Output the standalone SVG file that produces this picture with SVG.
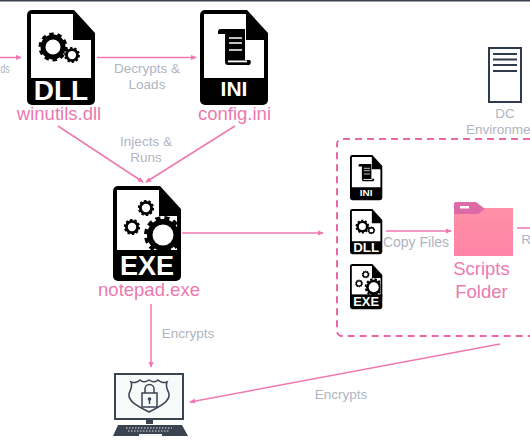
<svg xmlns="http://www.w3.org/2000/svg" width="530" height="442" viewBox="0 0 530 442">
<style>
.lbl{font-family:"Liberation Sans",Arial,sans-serif;font-size:13.5px;fill:#b0b4c1;text-anchor:middle}
.name{font-family:"Liberation Sans",Arial,sans-serif;font-size:18.5px;fill:#ee78b0;text-anchor:middle}
.ext{font-family:"Liberation Sans",Arial,sans-serif;font-weight:bold;fill:#fff;text-anchor:middle}
.con{fill:none;stroke:#ee78b0;stroke-width:1.5;marker-end:url(#arr)}
.k{fill:#000}
.w{fill:#fff}
</style>
<defs>
<marker id="arr" viewBox="0 0 8 8" refX="7" refY="4" markerWidth="6" markerHeight="6" markerUnits="userSpaceOnUse" orient="auto"><path d="M0 0.5L8 4L0 7.5Z" fill="#ee78b0"/></marker>
<clipPath id="exeClip"><rect x="4" y="4" width="60" height="64"/></clipPath>
<g id="file">
<path class="k" d="M5 0H47L68 23V90a5 5 0 0 1-5 5H5a5 5 0 0 1-5-5V5a5 5 0 0 1 5-5Z"/>
<path class="w" d="M4 4H46V30H64V68H4Z"/>
</g>
<g id="gear">
<circle r="10" fill="none" stroke="#000" stroke-width="5"/>
<circle r="12.5" fill="none" stroke="#000" stroke-width="4" stroke-dasharray="4.3 3.55"/>
</g>
<g id="iconDll">
<use href="#file"/>
<use href="#gear" transform="translate(26,37)"/>
<use href="#gear" transform="translate(45,45) scale(.55)"/>
<text class="ext" x="34" y="90" font-size="28">DLL</text>
</g>
<g id="iconIni">
<use href="#file"/>
<path class="k" d="M18 22a3 3 0 0 1 3-3H45V50H50a3 3 0 0 1-3 5H28a3 3 0 0 1-3-3V24H18Z"/>
<path d="M29 28H42M29 33H42M29 40H42" stroke="#fff" stroke-width="1.6"/>
<rect class="w" x="28" y="50.500" width="19" height="1.800"/>
<text class="ext" x="34" y="86" font-size="21">INI</text>
</g>
<g id="iconExe">
<use href="#file"/>
<path class="w" d="M4 4H46V30H64V64H4Z"/>
<rect class="k" x="0" y="64" width="68" height="6"/>
<use href="#gear" transform="translate(33,22) scale(.56)"/>
<use href="#gear" transform="translate(19,41) scale(.56)"/>
<g clip-path="url(#exeClip)">
<circle class="k" cx="50" cy="49" r="16"/>
<circle cx="50" cy="49" r="17" fill="none" stroke="#000" stroke-width="4" stroke-dasharray="5 4"/>
</g>
<circle class="w" cx="50" cy="49" r="10.500"/>
<text class="ext" x="34" y="89" font-size="27">EXE</text>
</g>
<linearGradient id="fold" x1="0" y1="0" x2="0" y2="1"><stop offset="0" stop-color="#ff90a6"/><stop offset="1" stop-color="#ff83a6"/></linearGradient>
</defs>
<rect width="530" height="442" fill="#fff"/>
<rect width="530" height="1.5" fill="#3a4050"/>

<g id="connectors">
<path class="con" d="M0 57.500H21"/>
<path class="con" d="M97 57.500H196"/>
<path class="con" d="M58 126L143 182"/>
<path class="con" d="M235 126L146 182"/>
<path class="con" d="M182 233H323"/>
<path class="con" d="M151 304V367"/>
<path class="con" d="M386 231H451"/>
<path d="M517 228H530" fill="none" stroke="#ee78b0" stroke-width="1.5"/>
<path class="con" d="M500 344L190 402"/>
</g>

<g id="labels">
<text class="lbl" style="text-anchor:start" x="0.500" y="73" textLength="9" lengthAdjust="spacingAndGlyphs">ds</text>
<text class="lbl" x="147" y="73">Decrypts &amp;</text>
<text class="lbl" x="147" y="89">Loads</text>
<text class="lbl" x="146" y="146">Injects &amp;</text>
<text class="lbl" x="146" y="162">Runs</text>
<text class="lbl" x="188" y="338">Encrypts</text>
<text class="lbl" x="341" y="399">Encrypts</text>
<text class="lbl" x="416" y="247" style="font-size:14px">Copy Files</text>
<text class="lbl" x="526" y="244">R</text>
</g>

<g id="winutils"><use href="#iconDll" x="27" y="10"/><text class="name" x="59" y="120">winutils.dll</text></g>
<g id="config"><use href="#iconIni" x="200" y="10"/><text class="name" x="234.500" y="120">config.ini</text></g>
<g id="notepad"><use href="#iconExe" x="113" y="186"/><text class="name" x="149" y="296">notepad.exe</text></g>

<g id="dc">
<rect x="489" y="48" width="32" height="54" fill="#fff" stroke="#2f3b4c" stroke-width="2"/>
<path d="M493 54H517M493 59.500H517M493 65H517M493 71H517" stroke="#2f3b4c" stroke-width="2"/>
<text class="lbl" x="505" y="118">DC</text>
<text class="lbl" style="text-anchor:start" x="466" y="134">Environme</text>
</g>

<g id="environment"><path d="M530 139H342a5 5 0 0 0-5 5V331a5 5 0 0 0 5 5H530" fill="none" stroke="#e868a8" stroke-width="2" stroke-dasharray="7 5"/></g>

<g id="smallIni"><use href="#iconIni" transform="translate(350,155) scale(.475)"/></g>
<g id="smallDll"><use href="#iconDll" transform="translate(350,209) scale(.475)"/></g>
<g id="smallExe"><use href="#iconExe" transform="translate(350,264) scale(.475)"/></g>

<g id="scripts">
<rect x="454" y="208" width="59" height="48" fill="url(#fold)"/>
<path d="M454 204a2 2 0 0 1 2-2H476L485 209L478 214H454Z" fill="#dd6aa6"/>
<rect x="460" y="206" width="9" height="2.500" fill="#fff"/>
<text class="name" x="481.500" y="275">Scripts</text>
<text class="name" x="481.500" y="298">Folder</text>
</g>

<g id="laptop">
<rect x="115" y="374" width="68" height="45" fill="#f8f9f9" stroke="#3a4350" stroke-width="2"/>
<path d="M149 380c3 2 6 3 9 0c3 3 7 3 9 2c-2 5 1 8 2 12c1 7-8 12-20 18c-12-6-21-11-20-18c1-4 4-7 2-12c2 1 6 1 9-2c3 3 6 2 9 0Z" fill="none" stroke="#3a4350" stroke-width="1.500"/>
<rect x="142" y="393" width="15" height="14" fill="none" stroke="#3a4350" stroke-width="1.500"/>
<path d="M145 393V389a4.500 4.500 0 0 1 9 0V393" fill="none" stroke="#3a4350" stroke-width="1.500"/>
<circle cx="149.500" cy="399" r="1.800" fill="#3a4350"/>
<rect x="148.800" y="399" width="1.400" height="5" fill="#3a4350"/>
<rect x="146" y="420" width="7" height="4" fill="#3a4350"/>
<path d="M118 425H182L188 436H113Z" fill="#3a4350"/>
<path d="M126 428H172M128 431H170" stroke="#dfe1e6" stroke-width="1" stroke-dasharray="1.500 1.500"/>
<rect x="139" y="434" width="23" height="2.500" fill="#f4f5f6"/>
</g>
</svg>
